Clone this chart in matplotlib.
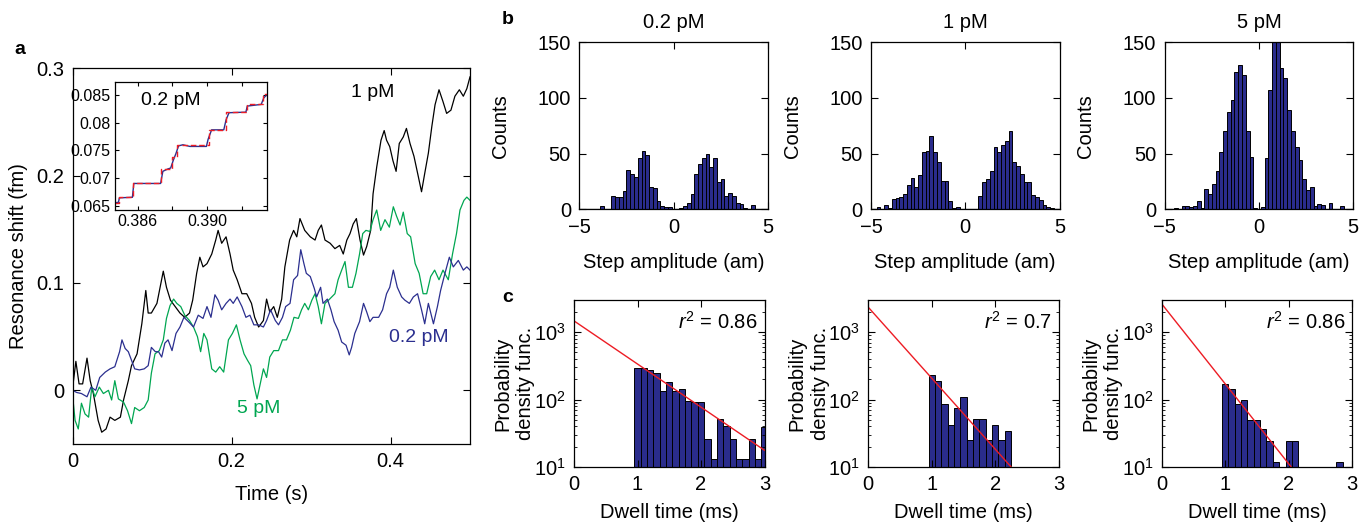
import numpy as np
import matplotlib
matplotlib.use('Agg')
import matplotlib.pyplot as plt
from matplotlib.ticker import LogLocator, NullFormatter

plt.rcParams['font.family'] = ['Liberation Sans', 'DejaVu Sans']
plt.rcParams['mathtext.fontset'] = 'custom'
plt.rcParams['mathtext.rm'] = 'Liberation Sans'
plt.rcParams['mathtext.it'] = 'Liberation Sans:italic'
plt.rcParams['axes.unicode_minus'] = True

# ---------------- data: panel a (traces) ----------------
t_1pM = [0, 0.004, 0.008, 0.0125, 0.018, 0.022, 0.026, 0.032, 0.0365, 0.042, 0.047, 0.053, 0.060, 0.064,
         0.070, 0.074, 0.081, 0.087, 0.092, 0.095, 0.099, 0.106, 0.110, 0.114, 0.118, 0.123, 0.129, 0.135,
         0.141, 0.147, 0.151, 0.156, 0.160, 0.164, 0.169, 0.175, 0.180, 0.183, 0.1875, 0.193, 0.198, 0.202,
         0.207, 0.213, 0.219, 0.225, 0.229, 0.234, 0.240, 0.244, 0.248, 0.253, 0.2575, 0.263, 0.267, 0.273,
         0.278, 0.282, 0.286, 0.292, 0.299, 0.305, 0.309, 0.313, 0.3175, 0.324, 0.330, 0.336, 0.3405, 0.345,
         0.349, 0.353, 0.357, 0.3616, 0.366, 0.370, 0.375, 0.378, 0.3826, 0.388, 0.392, 0.395, 0.399, 0.403,
         0.407, 0.411, 0.416, 0.420, 0.4245, 0.4295, 0.435, 0.439, 0.443, 0.4476, 0.452, 0.456, 0.461,
         0.466, 0.4706, 0.476, 0.481, 0.4866, 0.4916, 0.496, 0.500]
v_1pM = [0.003, 0.027, 0.006, 0.006, 0.030, 0.009, -0.003, -0.028, -0.039, -0.036, -0.025, -0.028, -0.025,
         -0.009, 0.009, 0.023, 0.034, 0.062, 0.093, 0.072, 0.072, 0.081, 0.096, 0.111, 0.096, 0.084, 0.078,
         0.072, 0.068, 0.072, 0.084, 0.109, 0.124, 0.115, 0.118, 0.127, 0.140, 0.149, 0.137, 0.143, 0.127,
         0.112, 0.103, 0.090, 0.090, 0.081, 0.068, 0.059, 0.065, 0.085, 0.073, 0.078, 0.068, 0.085, 0.115,
         0.140, 0.149, 0.143, 0.160, 0.149, 0.143, 0.140, 0.149, 0.154, 0.140, 0.137, 0.132, 0.135, 0.127,
         0.140, 0.146, 0.155, 0.160, 0.140, 0.126, 0.134, 0.149, 0.183, 0.208, 0.233, 0.242, 0.233, 0.227,
         0.214, 0.204, 0.230, 0.236, 0.244, 0.230, 0.218, 0.199, 0.185, 0.202, 0.221, 0.246, 0.266, 0.280,
         0.269, 0.258, 0.261, 0.274, 0.280, 0.274, 0.281, 0.292]

t_02pM = [0, 0.005, 0.011, 0.018, 0.023, 0.029, 0.034, 0.041, 0.047, 0.053, 0.059, 0.062, 0.066, 0.070,
          0.074, 0.078, 0.084, 0.090, 0.095, 0.099, 0.104, 0.108, 0.112, 0.116, 0.120, 0.125, 0.130, 0.135,
          0.140, 0.1456, 0.152, 0.158, 0.164, 0.169, 0.174, 0.179, 0.183, 0.1875, 0.193, 0.198, 0.202,
          0.207, 0.213, 0.218, 0.223, 0.228, 0.234, 0.240, 0.244, 0.249, 0.255, 0.259, 0.264, 0.268, 0.2735,
          0.278, 0.283, 0.287, 0.291, 0.294, 0.299, 0.304, 0.307, 0.312, 0.315, 0.3205, 0.325, 0.329, 0.334,
          0.3385, 0.344, 0.348, 0.351, 0.355, 0.361, 0.366, 0.370, 0.374, 0.378, 0.385, 0.390, 0.395, 0.399,
          0.4035, 0.4085, 0.414, 0.418, 0.4237, 0.4287, 0.434, 0.439, 0.443, 0.4476, 0.454, 0.459, 0.463,
          0.4685, 0.474, 0.479, 0.4853, 0.4916, 0.496, 0.500]
v_02pM = [0.0, -0.002, -0.003, -0.006, 0.003, 0.0, 0.012, 0.017, 0.020, 0.022, 0.036, 0.047, 0.039, 0.036,
          0.028, 0.020, 0.019, 0.020, 0.023, 0.040, 0.036, 0.036, 0.031, 0.044, 0.047, 0.037, 0.053, 0.059,
          0.068, 0.064, 0.059, 0.070, 0.067, 0.078, 0.068, 0.089, 0.084, 0.075, 0.081, 0.085, 0.081, 0.087,
          0.078, 0.068, 0.070, 0.061, 0.061, 0.059, 0.065, 0.075, 0.065, 0.061, 0.068, 0.078, 0.081, 0.103,
          0.107, 0.131, 0.118, 0.109, 0.106, 0.095, 0.087, 0.096, 0.081, 0.085, 0.075, 0.064, 0.056, 0.045,
          0.042, 0.033, 0.040, 0.053, 0.064, 0.081, 0.073, 0.064, 0.068, 0.068, 0.075, 0.090, 0.096, 0.112,
          0.096, 0.087, 0.084, 0.081, 0.087, 0.090, 0.075, 0.062, 0.081, 0.062, 0.078, 0.093, 0.109, 0.124,
          0.115, 0.121, 0.112, 0.115, 0.112]

t_5pM = [0, 0.003, 0.007, 0.011, 0.0155, 0.020, 0.024, 0.028, 0.0335, 0.0386, 0.045, 0.049, 0.053, 0.0575,
         0.064, 0.069, 0.074, 0.078, 0.084, 0.090, 0.095, 0.099, 0.1036, 0.109, 0.114, 0.118, 0.1225, 0.127,
         0.131, 0.136, 0.141, 0.147, 0.152, 0.157, 0.161, 0.165, 0.169, 0.175, 0.180, 0.185, 0.190, 0.196,
         0.201, 0.206, 0.2106, 0.2156, 0.220, 0.224, 0.228, 0.232, 0.236, 0.240, 0.244, 0.248, 0.253, 0.259,
         0.264, 0.269, 0.274, 0.2785, 0.284, 0.288, 0.292, 0.2966, 0.301, 0.305, 0.309, 0.313, 0.3175, 0.322,
         0.326, 0.330, 0.334, 0.3385, 0.3427, 0.347, 0.352, 0.3565, 0.361, 0.365, 0.369, 0.374, 0.378, 0.3826,
         0.3876, 0.393, 0.3985, 0.4035, 0.4077, 0.412, 0.416, 0.421, 0.4253, 0.431, 0.436, 0.441, 0.4455,
         0.4505, 0.4555, 0.461, 0.466, 0.4727, 0.478, 0.483, 0.4874, 0.4924, 0.496, 0.500]
v_5pM = [-0.006, -0.028, -0.036, -0.012, -0.022, -0.025, 0.003, -0.006, 0.003, -0.003, 0.0, -0.009, 0.009,
         -0.008, -0.011, -0.019, -0.031, -0.016, -0.019, -0.016, -0.009, 0.016, 0.034, 0.037, 0.047, 0.067,
         0.079, 0.085, 0.081, 0.078, 0.070, 0.065, 0.059, 0.050, 0.036, 0.053, 0.047, 0.020, 0.017, 0.022,
         0.017, 0.047, 0.053, 0.061, 0.047, 0.034, 0.028, 0.023, 0.005, -0.008, 0.006, 0.020, 0.012, 0.031,
         0.037, 0.037, 0.047, 0.047, 0.056, 0.068, 0.067, 0.075, 0.081, 0.075, 0.084, 0.090, 0.078, 0.062,
         0.081, 0.084, 0.087, 0.090, 0.103, 0.112, 0.120, 0.096, 0.096, 0.109, 0.127, 0.146, 0.149, 0.148,
         0.159, 0.168, 0.149, 0.159, 0.152, 0.171, 0.162, 0.154, 0.166, 0.146, 0.143, 0.118, 0.109, 0.090,
         0.090, 0.106, 0.112, 0.103, 0.112, 0.103, 0.127, 0.146, 0.168, 0.177, 0.180, 0.177]

# inset: 0.2 pM trace and step fit
t_inset = [0.3847, 0.3849, 0.38495, 0.3857, 0.38578, 0.38732, 0.38745, 0.38772, 0.3879, 0.38805, 0.3882,
           0.38835, 0.3886, 0.3890, 0.38995, 0.39005, 0.39025, 0.39095, 0.39108, 0.39125, 0.39222, 0.3923,
           0.3931, 0.39325, 0.39345]
v_inset = [0.0655, 0.0656, 0.0664, 0.0665, 0.0690, 0.0690, 0.0712, 0.0716, 0.0718, 0.0732, 0.0744,
           0.0758, 0.0760, 0.0757, 0.0757, 0.0770, 0.0787, 0.0787, 0.0805, 0.0818, 0.0819, 0.0830,
           0.0833, 0.0845, 0.0851]
step_edges = [0.3847, 0.38493, 0.38571, 0.38735, 0.38795, 0.38828, 0.39008, 0.39108, 0.39226, 0.39318, 0.39345]
step_levels = [0.0655, 0.0665, 0.0690, 0.0716, 0.0738, 0.0759, 0.0787, 0.0820, 0.0833, 0.0851]

a_xticks = [0, 0.2, 0.4]
a_xticklabels = ['0', '0.2', '0.4']
a_yticks = [0, 0.1, 0.2, 0.3]
a_yticklabels = ['0', '0.1', '0.2', '0.3']
inset_xticks = [0.386, 0.388, 0.390, 0.392]
inset_xticklabels = ['0.386', '', '0.390', '']
inset_yticks = [0.065, 0.070, 0.075, 0.080, 0.085]
inset_yticklabels = ['0.065', '0.07', '0.075', '0.08', '0.085']

# ---------------- data: panel b (step amplitude histograms) ----------------
amp_centers = [-5.0, -4.8, -4.6, -4.4, -4.2, -4.0, -3.8, -3.6, -3.4, -3.2, -3.0, -2.8, -2.6, -2.4, -2.2,
               -2.0, -1.8, -1.6, -1.4, -1.2, -1.0, -0.8, -0.6, -0.4, -0.2, 0.0, 0.2, 0.4, 0.6, 0.8, 1.0,
               1.2, 1.4, 1.6, 1.8, 2.0, 2.2, 2.4, 2.6, 2.8, 3.0, 3.2, 3.4, 3.6, 3.8, 4.0, 4.2, 4.4, 4.6,
               4.8, 5.0]
counts_02pM = [0, 0, 0, 0, 0, 0, 3, 0, 0, 12, 11, 11, 16, 35, 32, 29, 46, 52, 49, 20, 19, 7, 3, 2, 2, 0,
               0, 1, 3, 6, 14, 32, 41, 46, 50, 38, 46, 24, 27, 12, 15, 12, 6, 5, 1, 0, 4, 0, 0, 0, 0]
counts_1pM = [0, 0, 2, 0, 4, 1, 9, 10, 11, 14, 22, 28, 20, 31, 51, 52, 66, 51, 42, 25, 25, 7, 1, 2, 0, 0,
              0, 0, 0, 12, 24, 27, 34, 56, 51, 58, 61, 70, 42, 39, 32, 24, 24, 13, 11, 8, 4, 2, 1, 0, 0]
counts_5pM = [0, 0, 0, 1, 0, 3, 3, 2, 3, 7, 1, 18, 14, 23, 34, 51, 70, 87, 98, 123, 130, 121, 70, 47, 1, 0,
              2, 46, 107, 160, 155, 127, 118, 89, 70, 56, 44, 27, 17, 20, 3, 5, 4, 0, 6, 0, 0, 3, 0, 0, 0]
conc_titles = ['0.2 pM', '1 pM', '5 pM']

# ---------------- data: panel c (dwell time PDFs) ----------------
dwell_c1 = [1.0, 1.1, 1.2, 1.3, 1.4, 1.5, 1.6, 1.7, 1.8, 1.9, 2.0, 2.1, 2.2, 2.3, 2.4, 2.5, 2.6, 2.7, 2.8, 2.9, 3.0]
pdf_c1 = [293, 293, 274, 250, 132, 184, 132, 146, 94, 92, 92, 26, 13, 52, 41, 26, 13, 13, 26, 13, 39]
dwell_c2 = [1.0, 1.1, 1.2, 1.3, 1.4, 1.5, 1.6, 1.7, 1.8, 1.9, 2.0, 2.1, 2.2]
pdf_c2 = [233, 188, 86, 42, 76, 111, 25, 51, 51, 25, 42, 25, 34]
dwell_c3 = [1.0, 1.1, 1.2, 1.3, 1.4, 1.5, 1.6, 1.7, 1.8, 1.9, 2.0, 2.1, 2.2, 2.3, 2.4, 2.5, 2.6, 2.7, 2.8]
pdf_c3 = [172, 146, 86, 100, 49, 49, 36, 24, 12, 0, 24, 24, 0, 0, 0, 0, 0, 0, 12]
fit_x = [[0, 3.0], [0, 2.25], [0, 2.04]]
fit_y = [[1470, 17.7], [2340, 10], [2630, 10]]
r2_labels = ['0.86', '0.7', '0.86']

# ---------------- figure ----------------
W, H = 1359, 525
fig = plt.figure(figsize=(W / 100, H / 100), dpi=100)


def px_axes(l, t, r, b):
    return fig.add_axes([l / W, 1 - b / H, (r - l) / W, (b - t) / H])


def style(ax, size=14.5, length=5):
    ax.tick_params(direction='in', top=True, right=True, length=length, width=0.8,
                   labelsize=size, pad=6)
    ax.tick_params(which='minor', direction='in', top=True, right=True, length=2.5, width=0.6)
    for s in ax.spines.values():
        s.set_linewidth(0.9)


FS = 14.5
NAVY = '#2b2f8f'
BAR = '#2a2c8c'
GREEN = '#00a651'
RED = '#ed1c24'

# panel a
axa = px_axes(72.7, 68.3, 470, 444)
axa.plot(t_1pM, v_1pM, color='black', lw=0.9)
axa.plot(t_5pM, v_5pM, color=GREEN, lw=0.9)
axa.plot(t_02pM, v_02pM, color=NAVY, lw=0.9)
axa.set_xlim(0, 0.5)
axa.set_ylim(-0.05, 0.3)
axa.set_xticks(a_xticks)
axa.set_xticklabels(a_xticklabels)
axa.set_yticks(a_yticks)
axa.set_yticklabels(a_yticklabels)
style(axa, FS)
axa.set_xlabel('Time (s)', fontsize=FS, labelpad=10)
axa.set_ylabel('Resonance shift (fm)', fontsize=FS, labelpad=6)
axa.text(0.378, 0.277, '1 pM', fontsize=14, color='black', ha='center', va='center')
axa.text(0.436, 0.049, '0.2 pM', fontsize=14, color=NAVY, ha='center', va='center')
axa.text(0.234, -0.0165, '5 pM', fontsize=14, color=GREEN, ha='center', va='center')

# inset
axi = px_axes(115, 82.3, 267.3, 210)
axi.plot(t_inset, v_inset, color=NAVY, lw=1.0)
axi.step(step_edges, step_levels + [step_levels[-1]], where='post', color=RED, lw=1.0,
         ls=(0, (4, 2)))
axi.set_xlim(0.3847, 0.39345)
axi.set_ylim(0.0642, 0.0873)
axi.set_xticks(inset_xticks)
axi.set_xticklabels(inset_xticklabels)
axi.set_yticks(inset_yticks)
axi.set_yticklabels(inset_yticklabels)
style(axi, 11.5, length=3)
axi.tick_params(pad=3)
axi.text(0.368, 0.854, '0.2 pM', transform=axi.transAxes, fontsize=14, ha='center', va='center')

fig.text(20 / W, 1 - 50 / H, 'a', fontsize=14, fontweight='bold', ha='center', va='center')
fig.text(508 / W, 1 - 20 / H, 'b', fontsize=14, fontweight='bold', ha='center', va='center')
fig.text(508 / W, 1 - 298 / H, 'c', fontsize=14, fontweight='bold', ha='center', va='center')

# panel b
b_lefts = [579.3, 871.0, 1164.7]
b_counts = [counts_02pM, counts_1pM, counts_5pM]
for left, cnt, title in zip(b_lefts, b_counts, conc_titles):
    ax = px_axes(left, 42.3, left + 188.5, 209.2)
    ax.bar(amp_centers, cnt, width=0.2, color=BAR, edgecolor='black', linewidth=0.7)
    ax.axhline(0, color='#7f7f7f', lw=1.0, zorder=0.5)
    ax.set_xlim(-5, 5)
    ax.set_ylim(0, 150)
    ax.set_xticks([-5, 0, 5])
    ax.set_yticks([0, 50, 100, 150])
    style(ax, FS)
    ax.set_xlabel('Step amplitude (am)', fontsize=FS, labelpad=12)
    ax.set_ylabel('Counts', fontsize=FS, labelpad=20)
    ax.set_title(title, fontsize=FS, pad=10)

# panel c
c_lefts = [574.0, 868.3, 1161.7]
c_x = [dwell_c1, dwell_c2, dwell_c3]
c_y = [pdf_c1, pdf_c2, pdf_c3]
for i, left in enumerate(c_lefts):
    ax = px_axes(left, 300, left + 190.5, 467)
    ax.set_yscale('log')
    ax.bar(c_x[i], c_y[i], width=0.1, color=BAR, edgecolor='black', linewidth=0.7)
    ax.plot(fit_x[i], fit_y[i], color=RED, lw=1.0)
    ax.set_xlim(0, 3)
    ax.set_ylim(10, 3000)
    ax.set_xticks([0, 1, 2, 3])
    ax.yaxis.set_major_locator(LogLocator(base=10, numticks=10))
    ax.yaxis.set_minor_locator(LogLocator(base=10, subs=np.arange(2, 10), numticks=20))
    ax.yaxis.set_minor_formatter(NullFormatter())
    style(ax, FS)
    ax.set_xlabel('Dwell time (ms)', fontsize=FS, labelpad=6)
    ax.set_ylabel('Probability\ndensity func.', fontsize=FS, labelpad=-1, linespacing=1.25)
    ax.text(0.965, 0.87, r'$\mathit{r}^2$ = ' + r2_labels[i], transform=ax.transAxes,
            fontsize=FS, ha='right', va='center')

fig.savefig('out.png', dpi=100)
